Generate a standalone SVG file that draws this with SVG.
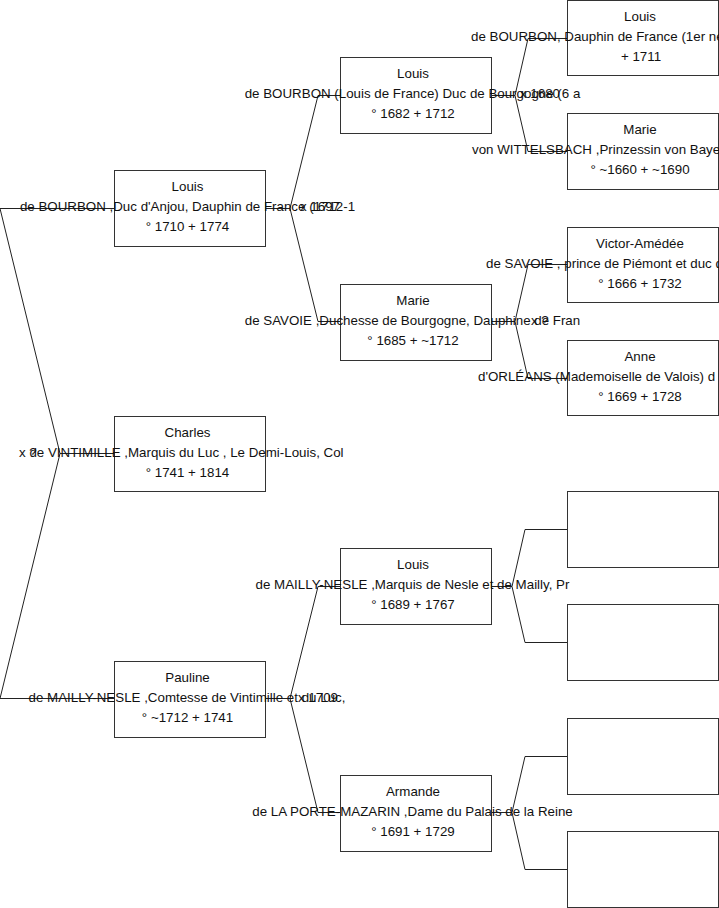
<svg xmlns="http://www.w3.org/2000/svg" width="719" height="908" viewBox="0 0 719 908">
<style>
.box{fill:#fff;stroke:#333;stroke-width:1}
.ln{fill:none;stroke:#222;stroke-width:1}
text{font-family:"Liberation Sans",Arial,sans-serif;font-size:13.33px;fill:#111}
.c{text-anchor:middle}
</style>
<rect width="719" height="908" fill="#fff"/>
<g id="connectors">
<polyline class="ln" points="114,453.5 60,453.5"/>
<polyline class="ln" points="114,208.5 0,208.5 60,453.5 0,698.5 114,698.5"/>
<polyline class="ln" points="265,208.5 290,208.5"/>
<polyline class="ln" points="340,95.5 318,95.5 290,208.5 318,321.5 340,321.5"/>
<polyline class="ln" points="265,698.5 290,698.5"/>
<polyline class="ln" points="340,586.5 318,586.5 290,698.5 318,812.5 340,812.5"/>
<polyline class="ln" points="491,95.5 515,95.5"/>
<polyline class="ln" points="567,38.5 528,38.5 515,95.5 528,151.5 567,151.5"/>
<polyline class="ln" points="491,321.5 515,321.5"/>
<polyline class="ln" points="567,264.5 528,264.5 515,321.5 528,378.5 567,378.5"/>
<polyline class="ln" points="491,586.5 512,586.5"/>
<polyline class="ln" points="567,529.5 525,529.5 512,586.5 525,642.5 567,642.5"/>
<polyline class="ln" points="491,812.5 512,812.5"/>
<polyline class="ln" points="567,756.5 525,756.5 512,812.5 525,869.5 567,869.5"/>
</g>
<g id="louis-xv">
<rect class="box" x="114.5" y="170.5" width="151" height="76"/>
<text class="c" x="187.5" y="191">Louis</text>
<text class="c" x="187.5" y="211">de BOURBON ,Duc d'Anjou, Dauphin de France (1712-1</text>
<text class="c" x="187.5" y="231">° 1710 + 1774</text>
</g>
<g id="charles">
<rect class="box" x="114.5" y="416.5" width="151" height="75"/>
<text class="c" x="187.5" y="437">Charles</text>
<text class="c" x="186.5" y="457">de VINTIMILLE ,Marquis du Luc , Le Demi-Louis, Col</text>
<text class="c" x="187.5" y="477">° 1741 + 1814</text>
</g>
<g id="pauline">
<rect class="box" x="114.5" y="661.5" width="151" height="76"/>
<text class="c" x="187.5" y="682">Pauline</text>
<text class="c" x="187" y="702">de MAILLY-NESLE ,Comtesse de Vintimille et du Luc,</text>
<text class="c" x="187.5" y="722">° ~1712 + 1741</text>
</g>
<g id="louis-bourgogne">
<rect class="box" x="340.5" y="57.5" width="151" height="76"/>
<text class="c" x="413" y="78">Louis</text>
<text class="c" x="412.5" y="98">de BOURBON (Louis de France) Duc de Bourgogne (6 a</text>
<text class="c" x="413" y="118">° 1682 + 1712</text>
</g>
<g id="marie-savoie">
<rect class="box" x="340.5" y="284.5" width="151" height="76"/>
<text class="c" x="413" y="305">Marie</text>
<text class="c" x="412.5" y="325">de SAVOIE ,Duchesse de Bourgogne, Dauphine de Fran</text>
<text class="c" x="413" y="345">° 1685 + ~1712</text>
</g>
<g id="louis-mailly">
<rect class="box" x="340.5" y="548.5" width="151" height="76"/>
<text class="c" x="413" y="569">Louis</text>
<text class="c" x="412.5" y="589">de MAILLY-NESLE ,Marquis de Nesle et de Mailly, Pr</text>
<text class="c" x="413" y="609">° 1689 + 1767</text>
</g>
<g id="armande">
<rect class="box" x="340.5" y="775.5" width="151" height="76"/>
<text class="c" x="413" y="796">Armande</text>
<text class="c" x="412.5" y="816">de LA PORTE-MAZARIN ,Dame du Palais de la Reine</text>
<text class="c" x="413" y="836">° 1691 + 1729</text>
</g>
<g id="grand-dauphin">
<rect class="box" x="567.5" y="0.5" width="151" height="75"/>
<text class="c" x="640" y="21">Louis</text>
<text x="471" y="41">de BOURBON, Dauphin de France (1er ne</text>
<text class="c" x="641" y="61">+ 1711</text>
</g>
<g id="marie-wittelsbach">
<rect class="box" x="567.5" y="113.5" width="151" height="76"/>
<text class="c" x="640" y="134">Marie</text>
<text x="472" y="154">von WITTELSBACH ,Prinzessin von Baye</text>
<text class="c" x="640" y="174">° ~1660 + ~1690</text>
</g>
<g id="victor-amedee">
<rect class="box" x="567.5" y="227.5" width="151" height="75"/>
<text class="c" x="640" y="248">Victor-Amédée</text>
<text x="486" y="268">de SAVOIE , prince de Piémont et duc d</text>
<text class="c" x="640" y="288">° 1666 + 1732</text>
</g>
<g id="anne-orleans">
<rect class="box" x="567.5" y="340.5" width="151" height="75"/>
<text class="c" x="640" y="361">Anne</text>
<text x="478" y="381">d'ORLÉANS  (Mademoiselle de Valois) d</text>
<text class="c" x="640" y="401">° 1669 + 1728</text>
</g>
<g id="empty-1"><rect class="box" x="567.5" y="491.5" width="151" height="76"/></g>
<g id="empty-2"><rect class="box" x="567.5" y="604.5" width="151" height="76"/></g>
<g id="empty-3"><rect class="box" x="567.5" y="718.5" width="151" height="76"/></g>
<g id="empty-4"><rect class="box" x="567.5" y="831.5" width="151" height="76"/></g>
<g id="union-labels">
<text x="19" y="457">x ?</text>
<text x="300" y="211">x 1697</text>
<text x="298" y="702">x 1709</text>
<text x="520" y="98">x 1680</text>
<text x="531" y="325">x ?</text>
</g>
</svg>
